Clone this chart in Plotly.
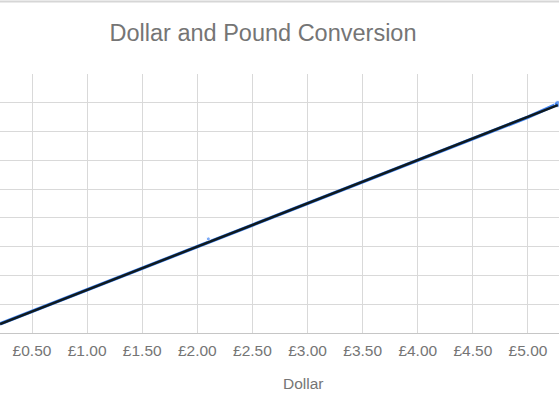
import numpy as np
import plotly.graph_objects as go

# values
dollar = [0.21, 0.5, 1.0, 1.5, 2.0, 2.5, 3.0, 3.5, 4.0, 4.5, 5.0, 5.27]
pound = [0.32, 0.75, 1.5, 2.25, 3.0, 3.75, 4.5, 5.25, 6.0, 6.75, 7.5, 7.96]
odd_dollar = [2.1]
odd_pound = [3.27]

x_ticks = [0.5, 1.0, 1.5, 2.0, 2.5, 3.0, 3.5, 4.0, 4.5, 5.0]
x_labels = ["£0.50", "£1.00", "£1.50", "£2.00", "£2.50",
            "£3.00", "£3.50", "£4.00", "£4.50", "£5.00"]

font_name = "Liberation Sans, Arial, sans-serif"
grey_text = "#757575"
blue = "#4285f4"

# linear trendline through the points
slope, icept = np.polyfit(dollar, pound, 1)
trend_x = [dollar[0], dollar[-1]]
trend_y = [slope * v + icept for v in trend_x]

fig = go.Figure()

fig.add_trace(
    go.Scatter(
        x=dollar,
        y=pound,
        mode="lines",
        line=dict(color=blue, width=3.5),
        showlegend=False,
    )
)

fig.add_trace(
    go.Scatter(
        x=odd_dollar + dollar[-1:],
        y=odd_pound + pound[-1:],
        mode="markers",
        marker=dict(color=blue, size=[4, 7]),
        showlegend=False,
    )
)

fig.add_trace(
    go.Scatter(
        x=trend_x,
        y=trend_y,
        mode="lines",
        line=dict(color="#0f1a1f", width=2.5),
        showlegend=False,
    )
)

fig.update_layout(
    width=559,
    height=419,
    autosize=False,
    margin=dict(l=0, r=0, t=74, b=86),
    paper_bgcolor="white",
    plot_bgcolor="white",
    font=dict(family=font_name, color=grey_text),
    title=dict(
        text="Dollar and Pound Conversion",
        font=dict(family=font_name, size=23.5, color=grey_text),
        xref="paper",
        x=263 / 559,
        xanchor="center",
        yref="container",
        y=1 - 33 / 419,
        yanchor="middle",
    ),
    annotations=[
        dict(
            text="Dollar",
            xref="paper",
            yref="paper",
            x=303 / 559,
            y=-50 / 259,
            xanchor="center",
            yanchor="middle",
            showarrow=False,
            font=dict(family=font_name, size=15.5, color=grey_text),
        )
    ],
    shapes=[
        dict(
            type="line",
            xref="paper",
            yref="paper",
            x0=0,
            x1=1,
            y0=331.5 / 259,
            y1=331.5 / 259,
            line=dict(color="#d6d6d6", width=2),
        )
    ],
)

fig.update_xaxes(
    range=[0.5 - 32 / 110.22, 0.5 + 527 / 110.22],
    tickvals=x_ticks,
    ticktext=x_labels,
    showgrid=True,
    gridcolor="#d9d9d9",
    gridwidth=1,
    showline=True,
    linecolor="#c6c6c6",
    linewidth=1,
    zeroline=False,
    ticks="",
    ticklabelstandoff=3,
    tickfont=dict(family=font_name, size=15.5, color=grey_text),
)

fig.update_yaxes(
    range=[0, 9],
    dtick=1,
    showgrid=True,
    gridcolor="#d9d9d9",
    gridwidth=1,
    zeroline=False,
    showticklabels=False,
    ticks="",
)

# page body has a default 8px margin; drop it so the chart sits at the corner
fig.write_html(
    "out.html",
    config={"displayModeBar": False},
    post_script="document.body.style.margin = '0';",
)
